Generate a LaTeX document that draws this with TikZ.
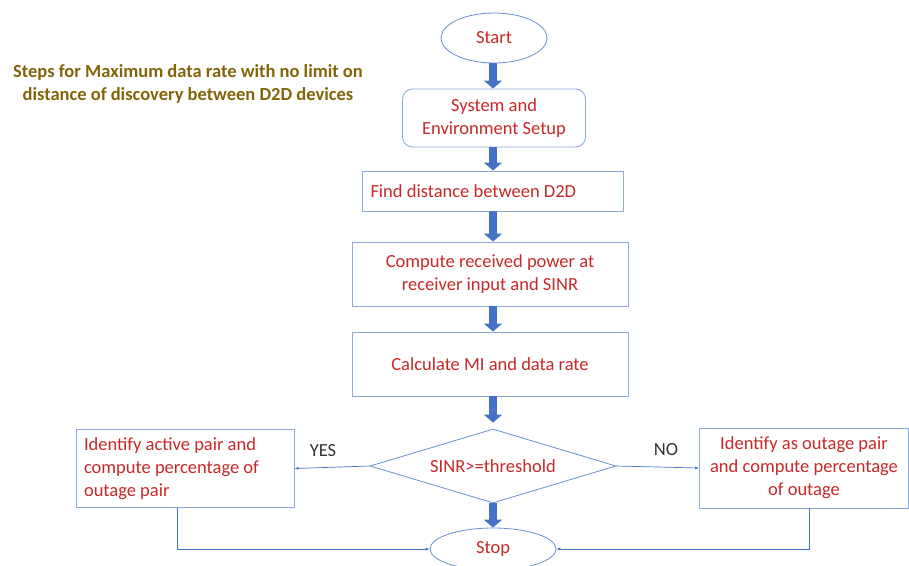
\documentclass[tikz,border=0pt]{standalone}
\usepackage{fontspec}
\setmainfont{Carlito}
\usetikzlibrary{shapes.geometric, arrows.meta}
\definecolor{boxline}{RGB}{143,170,220}
\definecolor{flowblue}{RGB}{68,114,196}
\definecolor{txtred}{RGB}{200,40,40}
\definecolor{titleolive}{RGB}{130,100,10}

\begin{document}
\begin{tikzpicture}[x=1pt, y=-1pt,
    font=\fontsize{18.5}{23}\selectfont,
    stepbox/.style={draw=boxline, line width=0.9pt, text=txtred, align=center, inner sep=8pt},
    terminal/.style={ellipse, draw=flowblue!80, line width=0.8pt, text=txtred, inner sep=0pt},
    decision/.style={diamond, shape aspect=3.32, draw=flowblue!80, line width=0.8pt, text=txtred, inner sep=0pt},
    bigarrow/.style={flowblue, line width=8pt, -{Triangle[length=8pt, width=18pt]}},
    link/.style={flowblue, line width=0.7pt, -{Latex[length=4pt, width=3pt]}}]
        \useasboundingbox (0,0) rectangle (909,565);

        % Titulo
        \node[font=\fontsize{18.5}{23}\selectfont\bfseries, text=titleolive, align=center] (heading) at (188,84)
            {Steps for Maximum data rate with no limit on\\distance of discovery between D2D devices};

        % Bloques del diagrama
        \node[terminal, minimum width=106, minimum height=50] (start) at (494,38) {Start};
        \node[stepbox, rounded corners=10pt, minimum width=183, minimum height=58] (setup) at (494,118)
            {System and\\Environment Setup};
        \node[stepbox, text width=245, align=flush left, minimum height=40] (dist) at (493,191)
            {Find distance between D2D};
        \node[stepbox, minimum width=276, minimum height=64] (power) at (490,274)
            {Compute received power at\\receiver input and SINR};
        \node[stepbox, minimum width=276, minimum height=64] (rate) at (490,364)
            {Calculate MI and data rate};
        \node[decision, minimum width=246, minimum height=74] (test) at (493,466) {SINR>=threshold};
        \node[terminal, minimum width=126, minimum height=42] (stop) at (493,549) {Stop};

        % Ramas
        \node[stepbox, text width=202, align=flush left, minimum height=75] (active) at (185,468.5)
            {Identify active pair and\\compute percentage of\\outage pair};
        \node[stepbox, minimum width=209, minimum height=80, inner sep=4pt] (outage) at (804,468)
            {Identify as outage pair\\and compute percentage\\of outage};
        \node[text=black!80] (yes) at (323,451) {YES};
        \node[text=black!80] (no) at (666,450) {NO};

        % Flechas principales
        \draw[bigarrow] (start.south -| test) -- (setup.north -| test);
        \draw[bigarrow] (setup.south -| test) -- (dist.north -| test);
        \draw[bigarrow] (dist.south -| test) -- (power.north -| test);
        \draw[bigarrow] (power.south -| test) -- (rate.north -| test);
        \draw[bigarrow, shorten >=6pt] (rate.south -| test) -- (test.north);
        \draw[bigarrow] (test.south) -- (stop.north -| test);

        % Conectores finos
        \draw[link] (test.west) -- (active.east);
        \draw[link] (test.east) -- (outage.west);
        \draw[link] ([xshift=-8]active.south) |- (stop.west);
        \draw[link] ([xshift=5]outage.south) |- (stop.east);

    \end{tikzpicture}
\end{document}
